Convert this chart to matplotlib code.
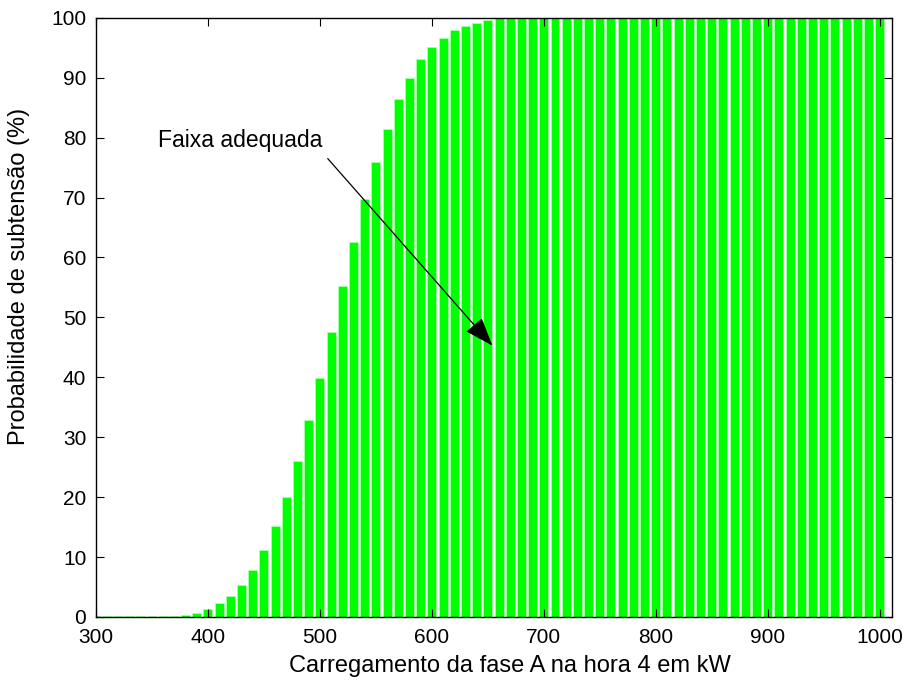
import matplotlib
matplotlib.use("Agg")
import matplotlib.pyplot as plt

# === DATA ===
# load of phase A (kW) and probability of undervoltage (%)
carga = list(range(300, 1001, 10))
prob = [0.1, 0.1, 0.1, 0.1, 0.1, 0.1, 0.15, 0.2, 0.4, 0.7,
        1.3, 2.3, 3.5, 5.3, 7.8, 11.2, 15.2, 20.1, 26.0, 32.8,
        39.9, 47.6, 55.3, 62.5, 69.7, 75.9, 81.4, 86.4, 90.0, 93.1,
        95.2, 96.7, 97.9, 98.7, 99.2, 99.6] + [100.0] * 35

xticks = list(range(300, 1001, 100))
yticks = list(range(0, 101, 10))

# annotation: text position and arrow tip (data coords)
texto = "Faixa adequada"
texto_xy = (355, 79.5)
seta_ini = (507, 76.5)
seta_fim = (654, 45.3)

# === FIGURE ===
plt.rcParams['font.family'] = ['Liberation Sans', 'DejaVu Sans']
fig = plt.figure(figsize=(9.11, 6.84), dpi=100)
ax = fig.add_axes([0.1054, 0.098, 0.8737, 0.876])

ax.bar(carga, prob, width=8, color='#00ff00', edgecolor='#b0ffb0',
       linewidth=0.5, zorder=1)

ax.set_xlim(300, 1011)
ax.set_ylim(0, 100)
ax.set_xticks(xticks)
ax.set_yticks(yticks)
ax.tick_params(direction='in', length=6, width=0.8, top=True, right=True,
               labelsize=15)
ax.tick_params(axis='x', pad=8)
ax.tick_params(axis='y', pad=7)
for s in ax.spines.values():
    s.set_linewidth(1.0)
    s.set_zorder(3)

# MATLAB labels sit a little off-centre
ax.set_xlabel("Carregamento da fase A na hora 4 em kW", fontsize=17, labelpad=6)
ax.xaxis.set_label_coords(0.52, -0.064)
ax.set_ylabel("Probabilidade de subtensão (%)", fontsize=17, labelpad=14)
ax.yaxis.set_label_coords(-0.083, 0.568)

# arrow + text, MATLAB style
ax.annotate("", xy=seta_fim, xytext=seta_ini,
            arrowprops=dict(arrowstyle='-|>,head_length=1.5,head_width=0.55',
                            color='black', lw=0.9, shrinkA=0, shrinkB=0,
                            mutation_scale=12))
ax.text(texto_xy[0], texto_xy[1], texto, fontsize=16.5, ha='left', va='center')

fig.savefig("out.png", dpi=100)
